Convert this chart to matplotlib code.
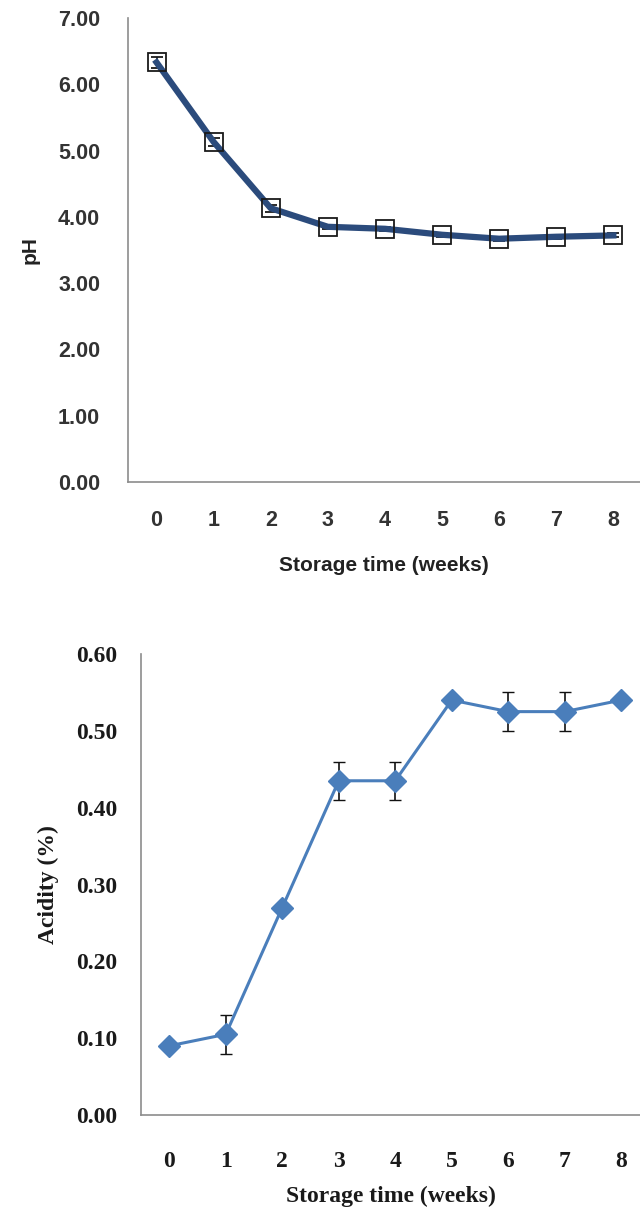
import matplotlib
matplotlib.use("Agg")
import matplotlib.pyplot as plt

weeks = [0, 1, 2, 3, 4, 5, 6, 7, 8]
ph = [6.33, 5.13, 4.13, 3.85, 3.82, 3.73, 3.67, 3.70, 3.72]
ph_err = [0.08, 0.06, 0.05, 0.03, 0.03, 0.03, 0.03, 0.03, 0.03]
acidity = [0.09, 0.105, 0.27, 0.435, 0.435, 0.54, 0.525, 0.525, 0.54]
acidity_err = [0.0, 0.025, 0.0, 0.025, 0.025, 0.0, 0.025, 0.025, 0.0]
ph_ticks = [0, 1, 2, 3, 4, 5, 6, 7]
acid_ticks = [0.0, 0.1, 0.2, 0.3, 0.4, 0.5, 0.6]

W, H = 640, 1218
fig = plt.figure(figsize=(W / 100, H / 100), dpi=100)


def box(l, t, r, b):
    return [l / W, 1 - b / H, (r - l) / W, (b - t) / H]


def style(ax, color):
    for s in ["top", "right"]:
        ax.spines[s].set_visible(False)
    for s in ["left", "bottom"]:
        ax.spines[s].set_color("#8c8c8c")
        ax.spines[s].set_linewidth(1.2)
    ax.tick_params(length=0, colors=color)


# pH chart
sans = "Liberation Sans"
ax1 = fig.add_axes(box(128, 18, 640, 482))
ax1.errorbar(weeks, ph, yerr=ph_err, color="#2b4b7c", lw=4.5, ecolor="#1a1a1a",
             elinewidth=1.2, capsize=4, marker="s", ms=13, mfc="none",
             mec="#1a1a1a", mew=1.3, zorder=3)
ax1.set_xlim(-0.5, (640 - 128) / 57.1 - 0.5)
ax1.set_ylim(0, 7)
ax1.set_yticks(ph_ticks)
ax1.set_yticklabels([f"{v:.2f}" for v in ph_ticks], family=sans,
                    weight="bold", fontsize=15.5)
ax1.set_xticks(weeks)
ax1.set_xticklabels([str(w) for w in weeks], family=sans, weight="bold",
                    fontsize=15.5)
ax1.tick_params(axis="y", pad=20)
ax1.tick_params(axis="x", pad=20)
style(ax1, "#333333")
ax1.set_ylabel("pH", family=sans, weight="bold", fontsize=15, color="#222222",
               labelpad=13)
ax1.set_xlabel("Storage time (weeks)", family=sans, weight="bold",
               fontsize=15, color="#222222", labelpad=18)

# acidity chart
serif = "Liberation Serif"
ax2 = fig.add_axes(box(141, 654, 640, 1115))
ax2.errorbar(weeks, acidity, yerr=acidity_err, color="#4a7ebb", lw=2.2,
             ecolor="#111111", elinewidth=1.2, capsize=4, marker="D", ms=11,
             mfc="#4a7ebb", mec="#4a7ebb", zorder=3)
ax2.set_xlim(-0.5, (640 - 141) / 56.5 - 0.5)
ax2.set_ylim(0, 0.6)
ax2.set_yticks(acid_ticks)
ax2.set_yticklabels([f"{v:.2f}" for v in acid_ticks], family=serif,
                    weight="bold", fontsize=17)
ax2.set_xticks(weeks)
ax2.set_xticklabels([str(w) for w in weeks], family=serif, weight="bold",
                    fontsize=17)
ax2.tick_params(axis="y", pad=17)
ax2.tick_params(axis="x", pad=26)
style(ax2, "#1a1a1a")
ax2.set_ylabel("Acidity (%)", family=serif, weight="bold", fontsize=17,
               color="#1a1a1a", labelpad=12)
ax2.set_xlabel("Storage time (weeks)", family=serif, weight="bold",
               fontsize=17, color="#1a1a1a", labelpad=10)

fig.savefig("out.png", dpi=100)
